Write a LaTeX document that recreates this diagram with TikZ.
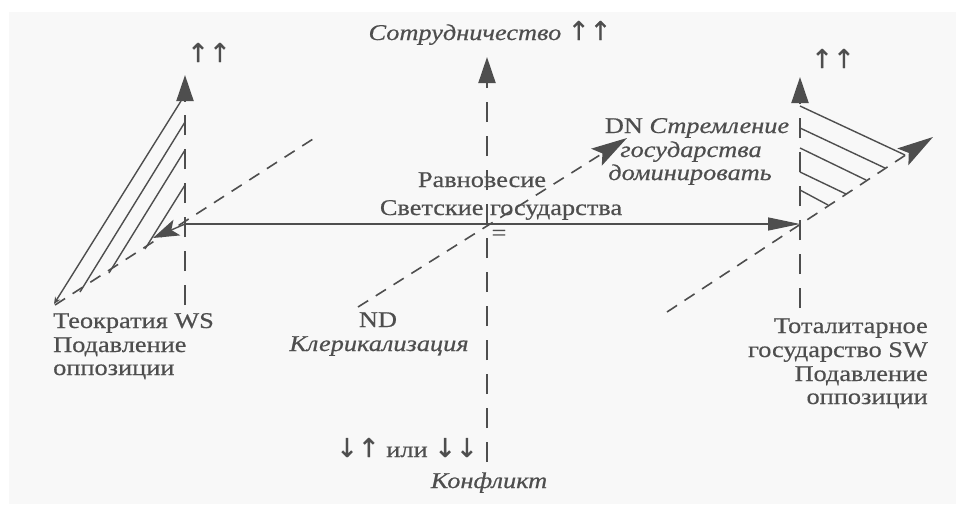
\documentclass[tikz,border=0pt]{standalone}
\usepackage{fontspec}
\setmainfont{Liberation Serif}[FakeStretch=1.17, FakeBold=0.5]
\newfontfamily\arrfont{DejaVu Sans}[FakeBold=0.5]
\usetikzlibrary{arrows.meta}
\definecolor{ink}{HTML}{4E4E4E}
\definecolor{paper}{HTML}{F8F8F8}
\newcommand{\ar}[1]{{\arrfont\fontsize{26}{26}\selectfont #1}}
\begin{document}
\begin{tikzpicture}[x=1pt,y=-1pt,
  every node/.style={inner sep=0pt, text=ink, font=\fontsize{22.5}{24}\selectfont},
  axisline/.style={draw=ink, line width=2pt, dash pattern=on 20pt off 14pt},
  diagline/.style={draw=ink, line width=1.6pt, dash pattern=on 12pt off 9pt},
  hatchline/.style={draw=ink, line width=1.4pt},
  bigtip/.style={-{Triangle[length=26pt,width=17pt]}},
  diagtip/.style={-{Stealth[length=36pt,width=20pt,inset=7pt]}},
  smalltip/.style={-{Stealth[length=7pt,width=6pt]}}]
\useasboundingbox (0,0) rectangle (956,504);
\fill[paper] (9,12) rectangle (956,504);

% coordinates
\coordinate (cBot) at (487,462);
\coordinate (cTop) at (487,57);
\coordinate (lBot) at (185,305);
\coordinate (lTop) at (185,75);
\coordinate (rBot) at (800,308);
\coordinate (rTop) at (800,77);
\coordinate (lO) at (185,224);
\coordinate (rO) at (800,224);
\coordinate (ndS) at (358,307);
\coordinate (dnE) at (627,138);
\coordinate (ldS) at (55,305);
\coordinate (ldE) at (313,139);
\coordinate (lArr) at (153,238);
\coordinate (rdS) at (667,312);
\coordinate (rdE) at (933,137);

% axes
\draw[axisline, bigtip] (cBot) -- (cTop);
\draw[axisline, bigtip] (lBot) -- (lTop);
\draw[axisline, bigtip] (rBot) -- (rTop);

% horizontal
\draw[hatchline, -{Triangle[length=32pt,width=13pt]}] (lO) -- (rO);

% central diagonal
\draw[diagline, diagtip] (ndS) -- (dnE);

% left cone
\draw[diagline] (ldS) -- (ldE);
\draw[hatchline, -{Stealth[length=26pt,width=17pt,inset=6pt]}] (lO) -- (lArr);
\coordinate (la1) at (181,101); \coordinate (lb1) at (54,304);
\coordinate (la2) at (185,122); \coordinate (lb2) at (80,292);
\coordinate (la3) at (185,150); \coordinate (lb3) at (109,273);
\coordinate (la4) at (185,185); \coordinate (lb4) at (145,249);
\draw[hatchline, smalltip] (la1) -- (lb1);
\draw[hatchline] (la2) -- (lb2);
\draw[hatchline] (la3) -- (lb3);
\draw[hatchline] (la4) -- (lb4);

% right cone
\draw[diagline, diagtip] (rdS) -- (rdE);
\coordinate (ra1) at (800,106); \coordinate (rb1) at (905,155);
\coordinate (ra2) at (800,128); \coordinate (rb2) at (885,168);
\coordinate (ra3) at (800,148); \coordinate (rb3) at (866,180);
\coordinate (ra4) at (800,172); \coordinate (rb4) at (846,194);
\coordinate (ra5) at (800,190); \coordinate (rb5) at (828,205);
\draw[hatchline] (ra1) -- (rb1);
\draw[hatchline] (ra2) -- (rb2);
\draw[hatchline] (ra3) -- (rb3);
\draw[hatchline] (ra4) -- (rb4);
\draw[hatchline] (ra5) -- (rb5);

% texts
\node[anchor=base] (coop) at (490,40) {{\itshape Сотрудничество} \ar{↑↑}};
\node[anchor=base] (upl) at (209,62) {\ar{↑↑}};
\node[anchor=base] (upr) at (833,68) {\ar{↑↑}};
\node[anchor=base] (dn1) at (697,133) {DN {\itshape Стремление}};
\node[anchor=base] (dn2) at (691,157) {\itshape государства};
\node[anchor=base] (dn3) at (690,180) {\itshape доминировать};
\node[anchor=base] (eq1) at (482,187) {Равновесие};
\node[anchor=base] (eq2) at (501,215) {Светские государства};
\node[anchor=center] (eqs) at (499,235) {=};
\node[anchor=base west] (ws1) at (53,328) {Теократия WS};
\node[anchor=base west] (ws2) at (53,352) {Подавление};
\node[anchor=base west] (ws3) at (53,375) {оппозиции};
\node[anchor=base] (nd1) at (378,327) {ND};
\node[anchor=base] (nd2) at (379,351) {\itshape Клерикализация};
\node[anchor=base east] (sw1) at (928,333) {Тоталитарное};
\node[anchor=base east] (sw2) at (928,357) {государство SW};
\node[anchor=base east] (sw3) at (928,381) {Подавление};
\node[anchor=base east] (sw4) at (928,404) {оппозиции};
\node[anchor=base east] (cf1) at (478,457) {\ar{↓↑} или \ar{↓↓}};
\node[anchor=base] (cf2) at (489,488) {\itshape Конфликт};
\end{tikzpicture}
\end{document}
